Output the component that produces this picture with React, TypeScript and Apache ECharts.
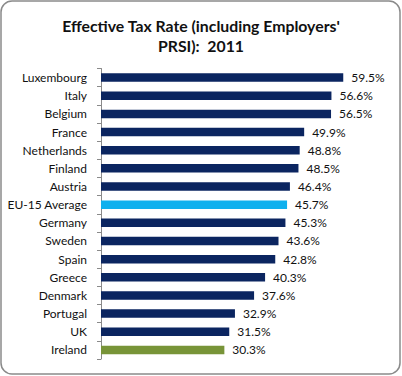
import React, { useEffect, useRef } from "react";
import * as echarts from "echarts";

const categories = [
  "Luxembourg", "Italy", "Belgium", "France", "Netherlands", "Finland", "Austria",
  "EU-15 Average", "Germany", "Sweden", "Spain", "Greece", "Denmark", "Portugal", "UK", "Ireland",
];
const values = [59.5, 56.6, 56.5, 49.9, 48.8, 48.5, 46.4, 45.7, 45.3, 43.6, 42.8, 40.3, 37.6, 32.9, 31.5, 30.3];
const titleText = "Effective Tax Rate (including Employers'\nPRSI):  2011";

const NAVY = "#0b2560";
const LIGHT = "#0fb0ee";
const GREEN = "#789438";

export default function App() {
  const ref = useRef<HTMLDivElement>(null);
  useEffect(() => {
    const chart = echarts.init(ref.current!, null, { renderer: "svg" });
    const data = values.map((v, i) => ({
      value: v,
      itemStyle: {
        color: categories[i] === "EU-15 Average" ? LIGHT : categories[i] === "Ireland" ? GREEN : NAVY,
      },
    }));
    chart.setOption({
      animation: false,
      backgroundColor: "#ffffff",
      title: {
        text: titleText,
        left: "center",
        top: 10,
        textStyle: {
          fontFamily: "Lato",
          fontWeight: "bold",
          fontSize: 15.8,
          lineHeight: 20,
          color: "#111",
        },
      },
      graphic: [
        {
          type: "rect",
          shape: { x: 1, y: 1, width: 399, height: 373, r: 11 },
          style: { fill: "none", stroke: "#8a8a8a", lineWidth: 1.5 },
          silent: true,
        },
      ],
      grid: { left: 101, top: 68.5, width: 285, height: 290.5 },
      xAxis: {
        type: "value",
        min: 0,
        max: 70,
        show: false,
      },
      yAxis: {
        type: "category",
        data: categories,
        inverse: true,
        axisLine: { show: true, lineStyle: { color: "#8a8a8a", width: 1 } },
        axisTick: { show: true, length: 4, lineStyle: { color: "#8a8a8a" } },
        axisLabel: {
          fontFamily: "Lato",
          fontSize: 12,
          color: "#111",
          margin: 14,
        },
        splitLine: { show: false },
      },
      series: [
        {
          type: "bar",
          data,
          barWidth: 8.5,
          label: {
            show: true,
            position: "right",
            distance: 8,
            formatter: (p: any) => p.value.toFixed(1) + "%",
            fontFamily: "Lato",
            fontSize: 12,
            color: "#111",
          },
        },
      ],
    });
    return () => chart.dispose();
  }, []);
  return (
    <div
      ref={ref}
      style={{ position: "fixed", left: 0, top: 0, width: 402, height: 376 }}
    />
  );
}
